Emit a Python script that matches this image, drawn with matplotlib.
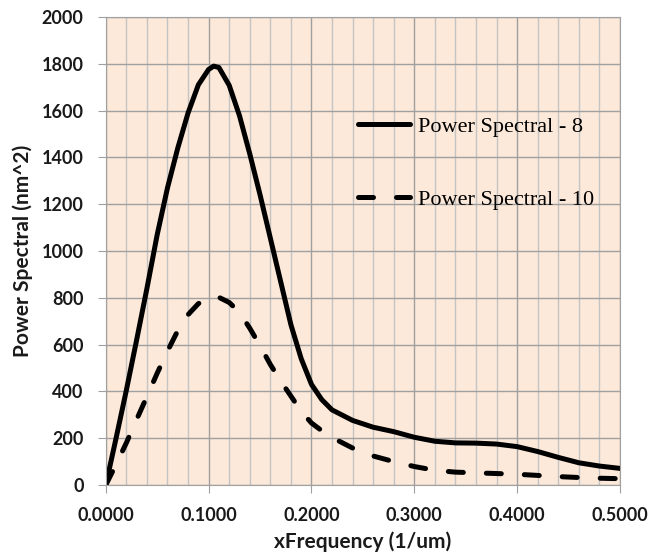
import numpy as np
import matplotlib.pyplot as plt
from matplotlib.ticker import MultipleLocator, FormatStrFormatter

# data
freq = [0.00, 0.01, 0.02, 0.03, 0.04, 0.05, 0.06, 0.07, 0.08, 0.09, 0.10, 0.105,
        0.11, 0.12, 0.13, 0.14, 0.15, 0.16, 0.17, 0.18, 0.19, 0.20, 0.21, 0.22,
        0.24, 0.26, 0.28, 0.30, 0.32, 0.34, 0.36, 0.38, 0.40, 0.42, 0.44, 0.46,
        0.48, 0.50]
ps_8 = [0, 200, 405, 620, 840, 1070, 1270, 1440, 1590, 1710, 1776, 1790,
        1784, 1708, 1578, 1415, 1240, 1055, 870, 685, 540, 430, 365, 321,
        276, 247, 228, 204, 187, 180, 179, 175, 164, 143, 118, 95,
        81, 71]
ps_10 = [0, 88, 180, 280, 378, 478, 572, 660, 728, 775, 800, 805,
         802, 780, 738, 670, 595, 515, 445, 380, 315, 265, 232, 203,
         158, 124, 100, 79, 63, 55, 52, 49, 46, 41, 36, 32,
         29, 27]

fig = plt.figure(figsize=(6.53, 5.55), dpi=100)
ax = fig.add_axes([0.162, 0.1261, 0.7875, 0.8433])
ax.set_facecolor('#FDE9D9')

ax.plot(freq, ps_8, color='black', lw=3.6, label='Power Spectral - 8',
        solid_capstyle='round', solid_joinstyle='round')
ax.plot(freq, ps_10, color='black', lw=3.6, dashes=(3.0, 4.6), label='Power Spectral - 10',
        dash_capstyle='round', dash_joinstyle='round')

ax.set_xlim(0, 0.5)
ax.set_ylim(0, 2000)
ax.xaxis.set_major_locator(MultipleLocator(0.1))
ax.xaxis.set_minor_locator(MultipleLocator(0.02))
ax.yaxis.set_major_locator(MultipleLocator(200))
ax.xaxis.set_major_formatter(FormatStrFormatter('%.4f'))

ax.grid(which='major', color='#a0a0a0', lw=1.0)
ax.grid(which='minor', axis='x', color='#c4c4c4', lw=1.0)
ax.set_axisbelow(True)
for s in ax.spines.values():
    s.set_color('#a0a0a0')
ax.tick_params(which='major', length=6, color='#a0a0a0', labelsize=13, labelcolor='#1a1a1a')
ax.tick_params(axis='x', pad=10)
ax.tick_params(axis='y', pad=10)
ax.tick_params(which='minor', length=0)
for lab in ax.get_xticklabels() + ax.get_yticklabels():
    lab.set_fontweight('bold')
    lab.set_family('Lato')

ax.set_xlabel('xFrequency (1/um)', fontsize=15, fontweight='bold', family='Lato', color='#1a1a1a',
              labelpad=5)
ax.set_ylabel('Power Spectral (nm^2)', fontsize=15, fontweight='bold', family='Lato', color='#1a1a1a',
              labelpad=6)

ax.legend(loc='upper left', bbox_to_anchor=(0.49, 0.787), frameon=False, borderpad=0,
          borderaxespad=0, handlelength=2.34, handletextpad=0.36, labelspacing=2.36,
          prop={'family': 'Liberation Serif', 'size': 16})

fig.savefig('out.png')
